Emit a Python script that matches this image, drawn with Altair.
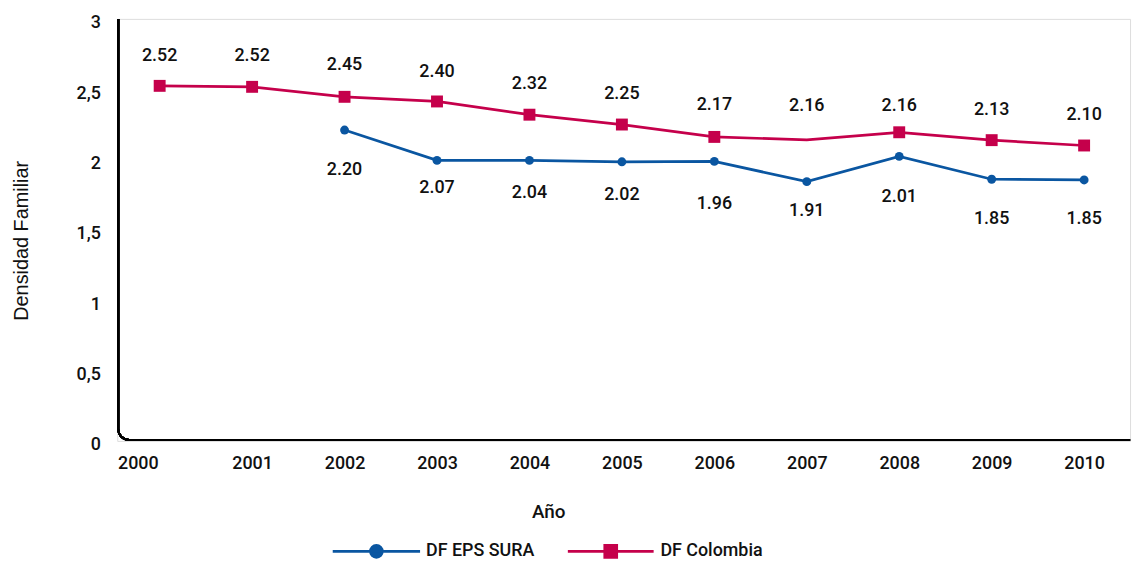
import altair as alt
import pandas as pd

# ---- data ----
years = list(range(2000, 2011))
series = ["DF EPS SURA", "DF Colombia"]
sura_values = [None, None, 2.21, 1.994, 1.994, 1.984, 1.987, 1.843, 2.023, 1.860, 1.855]
colombia_values = [2.524, 2.517, 2.446, 2.413, 2.319, 2.249, 2.161, 2.140, 2.194, 2.138, 2.100]
sura_labels = [None, None, 2.20, 2.07, 2.04, 2.02, 1.96, 1.91, 2.01, 1.85, 1.85]
colombia_labels = [2.52, 2.52, 2.45, 2.40, 2.32, 2.25, 2.17, 2.16, 2.16, 2.13, 2.10]
colombia_marker = [True, True, True, True, True, True, True, False, True, True, True]
y_ticks = [0, 0.5, 1, 1.5, 2, 2.5, 3]

BLUE = "#0a56a1"
RED = "#c5004b"
FONT = "Roboto"
TXT = "#111111"
W, H = 1020, 425

sura = pd.DataFrame({"year": years, "value": sura_values, "label": sura_labels,
                     "serie": series[0]}).dropna()
colombia = pd.DataFrame({"year": years, "value": colombia_values, "label": colombia_labels,
                         "marker": colombia_marker, "serie": series[1]})

xaxis = alt.Axis(values=years, format="d", domain=False, ticks=False, grid=False,
                 labelFont=FONT, labelFontSize=18, labelFontWeight=500, labelColor=TXT,
                 labelPadding=14,
                 labelOffset={"condition": {"test": "datum.value == 2000", "value": -22}, "value": 0},
                 title="Año", titleFont=FONT, titleFontSize=19, titleFontWeight=500,
                 titleColor=TXT, titleX=434, titleY=71, titleBaseline="middle",
                 titleAlign="center")
yaxis = alt.Axis(values=y_ticks, domain=False, ticks=False, grid=False,
                 labelExpr="replace(format(datum.value, '~g'), '.', ',')",
                 labelFont=FONT, labelFontSize=18, labelFontWeight=500, labelColor=TXT,
                 labelPadding=17, labelOffset=4,
                 title="Densidad Familiar", titleFont="Liberation Sans", titleFontSize=20,
                 titleFontWeight="normal", titleColor=TXT, titleX=-96, titleY=223,
                 titleBaseline="middle", titleAlign="center", titleAngle=270)

xscale = alt.Scale(domain=[1999.541, 2010.497], nice=False, zero=False)
yscale = alt.Scale(domain=[0, 3], nice=False)
X = alt.X("year:Q", scale=xscale, axis=xaxis)
Yv = alt.Y("value:Q", scale=yscale, axis=yaxis)
Yl = alt.Y("label:Q", scale=yscale, axis=yaxis)

# rounded L-shaped frame (left + bottom axis lines)
frame = alt.Chart(colombia).mark_rect(
    fill=None, stroke="#000000", strokeWidth=2, cornerRadiusBottomLeft=11, clip=True
).encode(x=alt.value(1), x2=alt.value(W + 30), y=alt.value(-30), y2=alt.value(H - 1))

line_s = alt.Chart(sura).mark_line(color=BLUE, strokeWidth=2.75).encode(x=X, y=Yv)
pts_s = alt.Chart(sura).mark_circle(color=BLUE, size=80, opacity=1).encode(x=X, y=Yv)
line_c = alt.Chart(colombia).mark_line(color=RED, strokeWidth=2.75).encode(x=X, y=Yv)
pts_c = alt.Chart(colombia).transform_filter("datum.marker").mark_square(
    color=RED, size=144, opacity=1).encode(x=X, y=Yv)

txt_c = alt.Chart(colombia).mark_text(dy=-31, font=FONT, fontSize=18, fontWeight=500,
                                      color=TXT).encode(
    x=X, y=Yl, text=alt.Text("label:Q", format=".2f"))
txt_s = alt.Chart(sura).mark_text(dy=39, font=FONT, fontSize=18, fontWeight=500,
                                  color=TXT).encode(
    x=X, y=Yl, text=alt.Text("label:Q", format=".2f"))

PATH_CIRCLE = "M-7.33,0H7.33M1,0A1,1,0,1,1,-1,0A1,1,0,1,1,1,0Z"
PATH_SQUARE = "M-7.2,0H7.2M-1,-1H1V1H-1Z"

leg = alt.Legend(orient="none", legendX=252, legendY=527, direction="horizontal",
                 title=None, padding=0, labelOffset=41, columnPadding=27,
                 labelFont=FONT, labelFontSize=18, labelFontWeight=500, labelColor=TXT,
                 symbolSize=144, symbolStrokeWidth=2.75, symbolOpacity=1)

ghost = alt.Chart(colombia).transform_filter("false").mark_point(
    filled=True, size=144, strokeWidth=2.75, opacity=1
).encode(
    fill=alt.Fill("serie:N", scale=alt.Scale(domain=series, range=[BLUE, RED]), legend=leg),
    stroke=alt.Stroke("serie:N", scale=alt.Scale(domain=series, range=[BLUE, RED]), legend=leg),
    shape=alt.Shape("serie:N", scale=alt.Scale(domain=series, range=[PATH_CIRCLE, PATH_SQUARE]),
                    legend=leg),
)

chart = alt.layer(
    frame, line_c, line_s, pts_c, pts_s, txt_c, txt_s, ghost
).properties(
    width=W, height=H,
    padding={"left": 110, "top": 9, "right": 9, "bottom": 122},
    autosize=alt.AutoSizeParams(type="none"),
).configure_view(stroke=None).configure(background="white")

chart.save("out.html", embed_options={"renderer": "svg", "actions": False})
